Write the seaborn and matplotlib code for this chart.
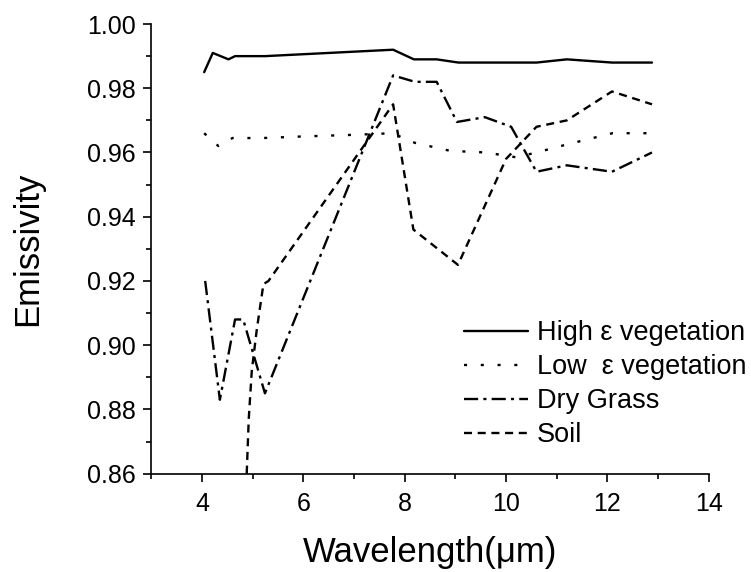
import matplotlib
matplotlib.use("Agg")
import matplotlib.pyplot as plt
import seaborn as sns
import pandas as pd
from matplotlib.ticker import MultipleLocator, FormatStrFormatter

# ---- data ----
high_x = [4.04, 4.21, 4.52, 4.65, 5.24, 7.77, 8.18, 8.63, 9.06, 10.6, 11.2, 12.09, 12.88]
high_y = [0.985, 0.991, 0.989, 0.990, 0.990, 0.992, 0.989, 0.989, 0.988, 0.988, 0.989, 0.988, 0.988]

low_x = [4.04, 4.32, 4.60, 5.20, 6.00, 7.00, 7.75, 8.20, 8.90, 9.60, 10.20, 10.60, 11.20, 12.10, 12.88]
low_y = [0.966, 0.962, 0.9645, 0.9645, 0.965, 0.9655, 0.966, 0.963, 0.9605, 0.960, 0.9585, 0.960, 0.9625, 0.966, 0.966]

dry_x = [4.06, 4.35, 4.65, 4.81, 5.24, 7.77, 8.20, 8.63, 9.03, 9.58, 10.10, 10.60, 11.20, 12.09, 12.88]
dry_y = [0.920, 0.883, 0.908, 0.908, 0.885, 0.984, 0.982, 0.982, 0.9695, 0.971, 0.968, 0.954, 0.956, 0.954, 0.960]

soil_x = [4.88, 4.92, 4.98, 5.08, 5.21, 5.31, 7.77, 8.17, 9.05, 10.00, 10.60, 11.20, 12.09, 12.88]
soil_y = [0.860, 0.877, 0.892, 0.905, 0.919, 0.920, 0.975, 0.936, 0.925, 0.958, 0.968, 0.970, 0.979, 0.975]

series_names = ["High \u03b5 vegetation", "Low  \u03b5 vegetation", "Dry Grass", "Soil"]

x_ticks = [4, 6, 8, 10, 12, 14]
y_ticks = [0.86, 0.88, 0.90, 0.92, 0.94, 0.96, 0.98, 1.00]

frames = []
for name, xs, ys in zip(series_names, [high_x, low_x, dry_x, soil_x],
                        [high_y, low_y, dry_y, soil_y]):
    frames.append(pd.DataFrame({"Wavelength": xs, "Emissivity": ys, "series": name}))
df = pd.concat(frames, ignore_index=True)

sns.set_style("ticks")
plt.rcParams["font.family"] = ["Liberation Sans", "DejaVu Sans"]
plt.rcParams["text.color"] = "black"
plt.rcParams["axes.labelcolor"] = "black"

fig = plt.figure(figsize=(7.51, 5.72), dpi=100)
ax = fig.add_axes([0.2017, 0.172, 0.742, 0.786])

dash_map = {
    series_names[0]: "",
    series_names[1]: (1.3, 5.8),
    series_names[2]: (6.0, 2.2, 1.3, 2.2),
    series_names[3]: (3.4, 2.4),
}
sns.lineplot(data=df, x="Wavelength", y="Emissivity", style="series",
             dashes=dash_map, color="black", linewidth=1.7,
             estimator=None, sort=False, ax=ax, legend=True)

ax.set_xlim(3, 14)
ax.set_ylim(0.86, 1.00)
ax.set_xticks(x_ticks)
ax.set_yticks(y_ticks)
ax.xaxis.set_minor_locator(MultipleLocator(1))
ax.yaxis.set_minor_locator(MultipleLocator(0.01))
ax.yaxis.set_major_formatter(FormatStrFormatter("%.2f"))
ax.tick_params(which="major", direction="out", length=6, width=1.2,
               labelsize=18, color="black", labelcolor="black")
ax.tick_params(axis="x", which="major", pad=7)
ax.tick_params(axis="y", which="major", pad=5.2)
ax.tick_params(which="minor", direction="out", length=3.5, width=1.2, color="black")

for s in ["top", "right"]:
    ax.spines[s].set_visible(False)
for s in ["left", "bottom"]:
    ax.spines[s].set_linewidth(1.2)
    ax.spines[s].set_color("black")

ax.set_xlabel("Wavelength(\u03bcm)", fontsize=25, labelpad=14.5, color="black")
ax.set_ylabel("Emissivity", fontsize=25, labelpad=31, color="black")

handles, labels = ax.get_legend_handles_labels()
for h in handles:
    h.set_color("black")
leg = ax.legend(handles, labels, loc="upper left",
                bbox_to_anchor=(0.618, 0.4397), bbox_transform=fig.transFigure,
                frameon=False, fontsize=19.5, handlelength=2.37,
                handletextpad=0.33, labelspacing=0.29, borderpad=0, borderaxespad=0)
for t in leg.get_texts():
    t.set_color("black")

fig.savefig("out.png", dpi=100)
